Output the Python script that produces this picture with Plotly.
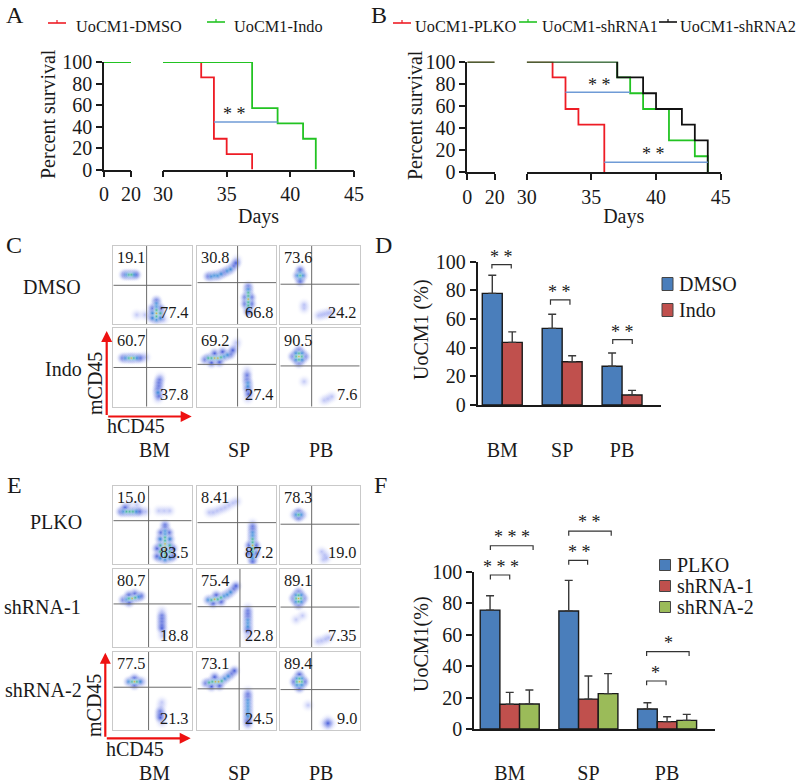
import plotly.graph_objects as go

W, H = 800, 784
FONT = "Liberation Serif"
INK = "#1a1a1a"
RED, GREEN, BLUE_LINE = "#ee1c25", "#22c322", "#6f9bd6"
BAR_BLUE, BAR_RED, BAR_GREEN = "#4a7ebb", "#c0504d", "#9bbb59"

# panel A survival
A_EARLY_DAYS = [0, 20]
A_EARLY_PCT = [100, 100]
A_DMSO_DAYS = [30, 33, 34, 35, 37]
A_DMSO_PCT = [100, 85.7, 28.6, 14.3, 0]
A_INDO_DAYS = [30, 37, 39, 41, 42]
A_INDO_PCT = [100, 57.1, 42.9, 28.6, 0]
A_SIG_DAYS = [34, 39]
A_SIG_PCT = [44.3, 44.3]

# panel B survival
B_PLKO_DAYS = [30, 32, 33, 34, 36]
B_PLKO_PCT = [100, 85.7, 57.1, 42.9, 0]
B_SH1_DAYS = [30, 37, 38, 39, 41, 43, 44]
B_SH1_PCT = [100, 85.7, 71.4, 57.1, 28.6, 14.3, 0]
B_SH2_DAYS = [30, 37, 39, 40, 42, 43, 44]
B_SH2_PCT = [100, 85.7, 71.4, 57.1, 42.9, 28.6, 0]
B_SIG1_DAYS = [33, 38]
B_SIG1_PCT = [72.2, 72.2]
B_SIG2_DAYS = [36, 44]
B_SIG2_PCT = [8.8, 8.8]

# bars
TISSUES = ["BM", "SP", "PB"]
TISSUE_POS = [0, 1, 2]
D_DMSO = [77.9, 53.5, 27.0]
D_DMSO_ERR = [12.6, 9.8, 9.3]
D_INDO = [43.7, 30.2, 7.0]
D_INDO_ERR = [7.3, 4.2, 3.2]
F_PLKO = [75.6, 75.0, 12.7]
F_PLKO_ERR = [9.1, 19.5, 4.0]
F_SH1 = [15.7, 19.0, 4.7]
F_SH1_ERR = [7.6, 14.7, 3.1]
F_SH2 = [15.9, 22.5, 5.5]
F_SH2_ERR = [8.9, 12.7, 3.8]

# significance brackets: left, right, top, foot, stars, star x, star y
D_BRACKETS = [(-0.173, 0.15, 98, 95.3, "* *", -0.02, 104.6),
              (0.805, 1.13, 73.3, 70, "* *", 0.96, 79.8),
              (1.844, 2.17, 45.6, 42.5, "* *", 2.0, 52)]
F_BRACKETS = [(-0.246, 0, 97.9, 95.1, "* * *", -0.11, 103.8),
              (-0.246, 0.297, 116.5, 113.8, "* * *", 0.03, 122.9),
              (0.75, 0.99, 107.2, 104.4, "* *", 0.886, 113.6),
              (0.75, 1.29, 125.8, 122.9, "* *", 1.02, 132.6),
              (1.74, 1.987, 30.5, 27.8, "*", 1.85, 36.7),
              (1.74, 2.28, 49.2, 46.4, "*", 2.017, 55.5)]

# flow plots: gate (hCD45, mCD45), quadrant percentages, density spots (x, y, level)
C_GATES = [(42.5, 49.6), (51, 53), (39.5, 51), (42.5, 50), (51, 54), (39.5, 52)]
C_VALUES = [("19.1", "77.4"), ("30.8", "66.8"), ("73.6", "24.2"),
            ("60.7", "37.8"), ("69.2", "27.4"), ("90.5", "7.6")]
C_SPOTS = [
    [(14, 63, 1), (17, 63, 2), (20, 63, 3), (23, 63, 3), (26, 63, 2), (29, 63, 1), (55, 30, 1), (55, 26, 2),
     (55, 22, 2), (55, 18, 3), (55, 14, 4), (55, 10, 3), (55, 6, 2), (50, 20, 1), (50, 14, 2), (50, 8, 2),
     (60, 20, 1), (60, 14, 3), (60, 8, 2), (47, 10, 0), (64, 6, 0), (40, 12, 0), (30, 12, 0)],
    [(14, 61, 1), (18, 61, 2), (22, 62, 2), (26, 62, 2), (30, 64, 2), (34, 66, 1), (38, 68, 2), (42, 70, 2),
     (46, 74, 1), (49, 78, 1), (50, 82, 0), (64.5, 48, 1), (64.5, 44, 2), (64.5, 40, 3), (64.5, 36, 3),
     (64.5, 32, 4), (64.5, 28, 3), (64.5, 24, 3), (64.5, 20, 2), (64.5, 16, 1), (61, 34, 1), (68, 34, 1),
     (61, 26, 1), (68, 26, 1)],
    [(25, 62, 3), (25, 65, 2), (25, 59, 2), (22, 62, 2), (28, 62, 2), (25, 69, 1), (25, 55, 1), (48, 11, 0),
     (52, 12, 0), (56, 13, 0), (60, 14, 0), (64, 15, 0), (30, 20, 0), (30, 25, 0)],
    [(12, 62, 1), (16, 62, 2), (20, 62, 3), (23, 62, 4), (26, 62, 3), (30, 62, 2), (34, 62, 1), (38, 63, 0),
     (41, 63, 0), (60, 38, 0), (59, 34, 1), (58, 30, 1), (58, 26, 1), (57, 22, 1), (57, 18, 2), (58, 14, 1),
     (57, 10, 0)],
    [(10, 60, 1), (14, 62, 3), (18, 62, 3), (22, 62, 4), (26, 62, 4), (30, 63, 3), (34, 64, 2), (38, 66, 2),
     (42, 67, 1), (45, 72, 1), (48, 77, 0), (50, 82, 0), (18, 56, 1), (28, 57, 1), (22, 68, 1), (32, 70, 1),
     (63, 46, 0), (63, 40, 1), (63, 34, 1), (64, 30, 2), (64, 26, 2), (64, 22, 1), (65, 16, 1), (64, 10, 0)],
    [(23.5, 64, 4), (20, 64, 3), (27, 64, 3), (23.5, 68, 3), (23.5, 60, 3), (16, 64, 1), (31, 64, 1),
     (23.5, 72, 1), (23.5, 56, 1), (20, 60, 2), (27, 68, 2), (27, 60, 2), (20, 68, 2), (55, 8, 0), (60, 10, 0),
     (65, 13, 0), (30, 32, 0)],
]
E_GATES = [(45, 55.5), (51, 53), (39.5, 51), (45, 55), (54, 51.5), (39.5, 51),
           (45, 55), (53, 53), (39.5, 52)]
E_VALUES = [("15.0", "83.5"), ("8.41", "87.2"), ("78.3", "19.0"),
            ("80.7", "18.8"), ("75.4", "22.8"), ("89.1", "7.35"),
            ("77.5", "21.3"), ("73.1", "24.5"), ("89.4", "9.0")]
E_SPOTS = [
    [(10, 67, 1), (13, 67, 2), (17, 67, 3), (21, 67, 3), (25, 67, 3), (29, 67, 2), (33, 67, 1), (37, 67, 0),
     (41, 67, 0), (20, 75, 0), (30, 75, 0), (15, 72, 1), (58, 68, 0), (65, 68, 0), (72, 68, 0), (66, 50, 1),
     (66, 46, 1), (66, 42, 2), (66, 38, 2), (66, 34, 3), (66, 30, 3), (66, 26, 4), (66, 22, 4), (66, 18, 4),
     (66, 14, 3), (66, 10, 3), (66, 6, 2), (61, 40, 1), (71, 40, 1), (60, 32, 2), (72, 32, 2), (60, 24, 3),
     (72, 24, 3), (60, 16, 3), (72, 16, 3), (60, 8, 2), (72, 8, 2), (56, 20, 1), (76, 20, 1), (56, 10, 1),
     (76, 10, 1)],
    [(15, 66, 0), (20, 66, 0), (25, 68, 0), (30, 70, 0), (35, 72, 0), (40, 75, 0), (45, 78, 0), (50, 80, 0),
     (70, 52, 0), (70, 48, 1), (70, 44, 1), (70, 40, 2), (70, 36, 2), (70, 32, 3), (70, 28, 3), (70, 24, 4),
     (70, 20, 3), (70, 16, 3), (70, 12, 2), (70, 8, 2), (70, 4, 1), (66, 24, 1), (74, 24, 1), (66, 14, 1),
     (74, 14, 1)],
    [(23, 63, 3), (20, 63, 2), (26, 63, 2), (23, 66, 1), (23, 60, 1), (18, 63, 0), (28, 63, 0), (54, 6, 0),
     (56, 12, 0), (52, 16, 0), (58, 8, 0)],
    [(13, 60, 1), (17, 61, 2), (20, 62, 3), (24, 62, 4), (28, 63, 3), (32, 64, 2), (35, 65, 1), (27, 68, 1),
     (20, 66, 1), (20, 57, 1), (62, 46, 0), (62, 40, 1), (62, 36, 1), (62, 32, 1), (62, 28, 1), (62, 24, 1),
     (63, 20, 0), (63, 14, 0)],
    [(14, 60, 2), (18, 60, 3), (22, 61, 4), (26, 61, 3), (30, 63, 3), (34, 65, 2), (38, 67, 2), (42, 70, 2),
     (46, 74, 1), (49, 78, 1), (20, 56, 1), (30, 58, 1), (24, 66, 1), (64, 50, 0), (64, 46, 1), (64, 42, 1),
     (64, 38, 1), (64, 34, 2), (64, 30, 2), (64, 26, 2), (64, 22, 1), (64, 18, 0), (64, 12, 0)],
    [(23, 62, 4), (20, 62, 3), (26, 62, 3), (23, 66, 3), (23, 58, 3), (17, 62, 1), (29, 62, 1), (23, 70, 1),
     (23, 54, 1), (20, 66, 2), (26, 66, 2), (20, 58, 2), (26, 58, 2), (47, 7, 0), (52, 8, 0), (57, 10, 0),
     (61, 12, 0), (20, 35, 0), (28, 40, 0)],
    [(20, 62, 2), (24, 62, 3), (27, 62, 4), (30, 62, 3), (34, 62, 2), (27, 66, 1), (27, 58, 1), (37, 62, 0),
     (62, 36, 0), (61, 30, 0), (60, 24, 1), (60, 20, 1), (60, 16, 1), (62, 10, 0)],
    [(11, 60, 1), (15, 61, 3), (19, 62, 3), (23, 62, 4), (27, 62, 4), (31, 63, 3), (35, 66, 2), (39, 69, 2),
     (43, 72, 1), (47, 76, 1), (18, 56, 1), (28, 57, 1), (22, 68, 1), (64, 50, 0), (64, 46, 1), (64, 42, 1),
     (64, 38, 2), (64, 34, 2), (64, 30, 2), (64, 26, 2), (64, 22, 2), (64, 18, 2), (64, 14, 1), (64, 10, 1),
     (64, 6, 0)],
    [(24, 62, 4), (21, 62, 3), (27, 62, 3), (24, 66, 3), (24, 58, 2), (21, 66, 2), (27, 66, 2), (21, 58, 2),
     (27, 58, 2), (24, 71, 1), (24, 54, 1), (18, 62, 1), (30, 62, 1), (60, 9, 1), (60, 13, 0), (56, 9, 0),
     (64, 9, 0), (60, 5, 0), (35, 32, 0)],
]

# density layers, lowest first
LAYER_SIZE = [16, 14, 9, 6, 4]
LAYER_COLOR = ["rgba(110,125,235,0.42)", "rgba(45,70,210,0.8)", "rgba(35,140,215,0.75)",
               "rgba(60,195,110,0.7)", "rgba(235,160,50,0.85)"]
FADE = "rgba(255,255,255,0)"
FLOW_COLS = [(113.3, 191.7), (197.3, 276.3), (280.3, 359.7)]

fig = go.Figure()
layout = {}
annots = []
shapes = []
axis_count = 0


def new_axes(x0, x1, y_top, y_bot, xopts, yopts, share_y=None):
    # domains are worked out from pixel boxes of the page
    global axis_count
    axis_count += 1
    sfx = "" if axis_count == 1 else str(axis_count)
    y_sfx = share_y if share_y is not None else sfx
    layout["xaxis" + sfx] = dict(domain=[x0 / W, x1 / W], anchor="y" + y_sfx, **xopts)
    if share_y is None:
        layout["yaxis" + sfx] = dict(domain=[1 - y_bot / H, 1 - y_top / H], anchor="x" + sfx, **yopts)
    return "x" + sfx, "y" + y_sfx, sfx


def text(x, y, s, size=20, xanchor="center", **kw):
    annots.append(dict(xref="paper", yref="paper", x=x / W, y=1 - y / H, text=s, showarrow=False, xanchor=xanchor,
                       yanchor="middle", font=dict(family=FONT, size=size, color=INK), **kw))


def tick_axis(**kw):
    opts = dict(showgrid=False, zeroline=False, showline=True, linecolor=INK, linewidth=1.7, ticks="outside",
                ticklen=6, tickwidth=1.5, tickcolor=INK, tickfont=dict(family=FONT, size=20, color=INK))
    opts.update(kw)
    return opts


def line_key(x, y, color):
    # small legend key with the censor tick in its middle
    shapes.append(dict(type="line", xref="paper", yref="paper", x0=x / W, x1=(x + 18) / W, y0=1 - y / H, y1=1 - y / H,
                       line=dict(color=color, width=1.6)))
    shapes.append(dict(type="line", xref="paper", yref="paper", x0=(x + 9) / W, x1=(x + 9) / W, y0=1 - y / H,
                       y1=1 - (y - 3) / H, line=dict(color=color, width=1.2)))


def bar_key(x, row, half_h, label, color):
    # plotly legend rows would be taller than the ones in this figure
    shapes.append(dict(type="rect", xref="paper", yref="paper", x0=x / W, x1=(x + 11) / W, y0=1 - (row + half_h) / H,
                       y1=1 - (row - half_h) / H, fillcolor=color, line=dict(color="#444444", width=1)))
    text(x + 15, row, label, xanchor="left")


def survival(x0, x1, x2, x3, y_top, y_bot, days_shift, early, series, sig):
    y_opts = tick_axis(range=[0, 100], tickvals=[0, 20, 40, 60, 80, 100])
    xa, ya, _ = new_axes(x0, x1, y_top, y_bot, tick_axis(range=[0, 20], tickvals=[0, 20]), y_opts)
    xb, _, _ = new_axes(x2, x3, y_top, y_bot,
                        tick_axis(range=[30, 45], tickvals=[30, 35, 40, 45],
                                  title=dict(text="Days", standoff=days_shift,
                                             font=dict(family=FONT, size=20, color=INK))),
                        {}, share_y=ya[1:])
    for (days, pct, name, color) in series:
        fig.add_trace(go.Scatter(x=early[0], y=early[1], xaxis=xa, yaxis=ya, mode="lines", name=name,
                                 showlegend=False, cliponaxis=False, line=dict(color=color, width=1.8)))
        fig.add_trace(go.Scatter(x=days, y=pct, xaxis=xb, yaxis=ya, mode="lines", name=name, showlegend=False,
                                 cliponaxis=False, line=dict(color=color, width=1.8, shape="hv")))
    for (days, pct, sx, sy) in sig:
        fig.add_trace(go.Scatter(x=days, y=pct, xaxis=xb, yaxis=ya, mode="lines", showlegend=False,
                                 line=dict(color=BLUE_LINE, width=1.5)))
        annots.append(dict(xref=xb, yref=ya, x=sx, y=sy, text="* *", showarrow=False, xanchor="center", yanchor="middle",
                           font=dict(family=FONT, size=18, color=INK)))


survival(104, 131, 163, 354, 62, 169.5, 5, (A_EARLY_DAYS, A_EARLY_PCT),
         [(A_DMSO_DAYS, A_DMSO_PCT, "UoCM1-DMSO", RED), (A_INDO_DAYS, A_INDO_PCT, "UoCM1-Indo", GREEN)],
         [(A_SIG_DAYS, A_SIG_PCT, 35.64, 52)])
survival(467.3, 494.7, 526.7, 720.7, 61.7, 172, 2, (A_EARLY_DAYS, A_EARLY_PCT),
         [(B_PLKO_DAYS, B_PLKO_PCT, "UoCM1-PLKO", RED), (B_SH1_DAYS, B_SH1_PCT, "UoCM1-shRNA1", GREEN),
          (B_SH2_DAYS, B_SH2_PCT, "UoCM1-shRNA2", "#111111")],
         [(B_SIG1_DAYS, B_SIG1_PCT, 35.6, 79), (B_SIG2_DAYS, B_SIG2_PCT, 39.8, 16.5)])

text(48, 114, "Percent survival", textangle=-90)
text(415, 115, "Percent survival", textangle=-90)
line_key(48, 23, RED)
line_key(207, 22, GREEN)
text(74, 27, "UoCM1-DMSO", 16.3, xanchor="left")
text(232, 27, "UoCM1-Indo", 16.3, xanchor="left")
line_key(393, 23, RED)
line_key(519, 22, GREEN)
line_key(659, 22, "#111111")
text(413, 27, "UoCM1-PLKO", 16.3, xanchor="left")
text(540, 27, "UoCM1-shRNA1", 16.3, xanchor="left")
text(678, 27, "UoCM1-shRNA2", 16.3, xanchor="left")


def flow_panel(x0, x1, y_top, y_bot, gate, values, spots):
    frame = dict(range=[0, 100], showgrid=False, zeroline=False, showticklabels=False, ticks="", showline=True,
                 mirror=True, linecolor="#c9c9c9", linewidth=1)
    xa, ya, _ = new_axes(x0, x1, y_top, y_bot, frame, frame)
    for level in range(len(LAYER_SIZE)):
        kept = [s for s in spots if s[2] >= level]
        if kept:
            fig.add_trace(go.Scatter(x=[s[0] for s in kept], y=[s[1] for s in kept], xaxis=xa, yaxis=ya, mode="markers",
                                     showlegend=False,
                                     marker=dict(size=LAYER_SIZE[level], color=FADE, line_width=0,
                                                 gradient=dict(type="radial", color=LAYER_COLOR[level]))))
    fig.add_trace(go.Scatter(x=[gate[0], gate[0]], y=[0, 100], xaxis=xa, yaxis=ya, mode="lines", showlegend=False,
                             line=dict(color="#6a6a6a", width=1)))
    fig.add_trace(go.Scatter(x=[0, 100], y=[gate[1], gate[1]], xaxis=xa, yaxis=ya, mode="lines", showlegend=False,
                             line=dict(color="#6a6a6a", width=1)))
    annots.append(dict(xref=xa, yref=ya, x=2, y=99.5, text=values[0], showarrow=False, xanchor="left", yanchor="top",
                       font=dict(family=FONT, size=16.3, color=INK)))
    annots.append(dict(xref=xa, yref=ya, x=99.5, y=0.5, text=values[1], showarrow=False, xanchor="right", yanchor="bottom",
                       font=dict(family=FONT, size=16.3, color=INK)))


def flow_grid(rows, gates, values, spots):
    for i, (y_top, y_bot) in enumerate(rows):
        for j, (x0, x1) in enumerate(FLOW_COLS):
            k = i * 3 + j
            flow_panel(x0, x1, y_top, y_bot, gates[k], values[k], spots[k])


flow_grid([(245.7, 324.3), (328.3, 406.7)], C_GATES, C_VALUES, C_SPOTS)
flow_grid([(485.7, 564.3), (568.7, 647), (652, 730.3)], E_GATES, E_VALUES, E_SPOTS)


def red_axes(x, y_bot, y_end, x_end):
    for (ax, ay, tx, ty) in [(0, y_bot - y_end, x, y_end), (x - x_end, 0, x_end, y_bot)]:
        annots.append(dict(xref="paper", yref="paper", x=tx / W, y=1 - ty / H, ax=ax, ay=ay, axref="pixel", ayref="pixel",
                           text="", showarrow=True, arrowhead=2, arrowsize=1, arrowwidth=2.2, arrowcolor="#ee1111"))


red_axes(106.7, 416.5, 331, 191.7)
red_axes(105.3, 738.3, 652.7, 190.7)

text(95, 384, "mCD45", textangle=-90)
text(136, 426, "hCD45")
text(94, 706, "mCD45", textangle=-90)
text(135, 749, "hCD45")
for name, px in zip(TISSUES, [154, 239, 321]):
    text(px, 450, name)
    text(px, 773, name)
text(52, 287, "DMSO")
text(63, 369, "Indo")
text(56, 522, "PLKO")
text(42, 607, "shRNA-1")
text(43, 690, "shRNA-2")
for s, x, y in [("A", 15, 15), ("B", 379, 15), ("C", 14, 245), ("D", 383, 245), ("E", 14, 485), ("F", 380, 485)]:
    text(x, y, s, 24)


def bar_panel(x0, x1, y_top, y_bot, xrange, series, bar_w, brackets, ytop, label_gap):
    xopts = tick_axis(range=xrange, tickvals=TISSUE_POS, ticktext=TISSUES, ticks="", ticklabelstandoff=label_gap)
    xopts["linewidth"] = 2
    yopts = tick_axis(range=[0, 100], tickvals=[0, 20, 40, 60, 80, 100])
    xa, ya, sfx = new_axes(x0, x1, y_top, y_bot, xopts, yopts)
    for n, (vals, errs, name, color) in enumerate(series):
        fig.add_trace(go.Bar(x=TISSUE_POS, y=vals, name=name, xaxis=xa, yaxis=ya, showlegend=False,
                             width=bar_w, offset=(n - len(series) / 2) * bar_w,
                             marker=dict(color=color, line=dict(color=INK, width=1.4)),
                             error_y=dict(type="data", array=errs, symmetric=False, arrayminus=[0, 0, 0],
                                          color="#3a3a3a", thickness=1.4, width=4)))
    # brackets reach above the 100 tick, so they get a hidden taller pair of axes on the same scale
    hidden_top = y_bot - (y_bot - y_top) * ytop / 100
    xo, yo, _ = new_axes(x0, x1, hidden_top, y_bot, dict(range=xrange, visible=False),
                         dict(range=[0, ytop], visible=False))
    for (left, right, top, foot, stars, sx, sy) in brackets:
        fig.add_trace(go.Scatter(x=[left, left, right, right], y=[foot, top, top, foot], xaxis=xo, yaxis=yo, mode="lines",
                                 showlegend=False, line=dict(color="#333333", width=1.2)))
        annots.append(dict(xref=xo, yref=yo, x=sx, y=sy - 1, text=stars, showarrow=False, xanchor="center", yanchor="middle",
                           font=dict(family=FONT, size=18, color=INK)))


bar_panel(477.7, 661, 261.7, 405, [-0.41, 2.65],
          [(D_DMSO, D_DMSO_ERR, "DMSO", BAR_BLUE), (D_INDO, D_INDO_ERR, "Indo", BAR_RED)],
          1 / 3, D_BRACKETS, 115, 26)
bar_panel(474, 715, 571.7, 729, [-0.454, 2.609],
          [(F_PLKO, F_PLKO_ERR, "PLKO", BAR_BLUE), (F_SH1, F_SH1_ERR, "shRNA-1", BAR_RED),
           (F_SH2, F_SH2_ERR, "shRNA-2", BAR_GREEN)],
          0.25, F_BRACKETS, 140, 25)
text(421, 330, "UoCM1 (%)", textangle=-90)
text(421, 644, "UoCM1(%)", textangle=-90)

bar_key(662, 284, 6.5, "DMSO", BAR_BLUE)
bar_key(662, 310, 6.5, "Indo", BAR_RED)
bar_key(659.5, 565, 5.5, "PLKO", BAR_BLUE)
bar_key(659.5, 586, 5.5, "shRNA-1", BAR_RED)
bar_key(659.5, 607, 5.5, "shRNA-2", BAR_GREEN)

fig.update_layout(
    width=W, height=H, margin=dict(l=0, r=0, t=0, b=0, autoexpand=False), autosize=False,
    paper_bgcolor="white", plot_bgcolor="rgba(0,0,0,0)", showlegend=False,
    annotations=annots, shapes=shapes, **layout)

fig.write_html("out.html", config=dict(displayModeBar=False), post_script="document.body.style.margin='0';")
